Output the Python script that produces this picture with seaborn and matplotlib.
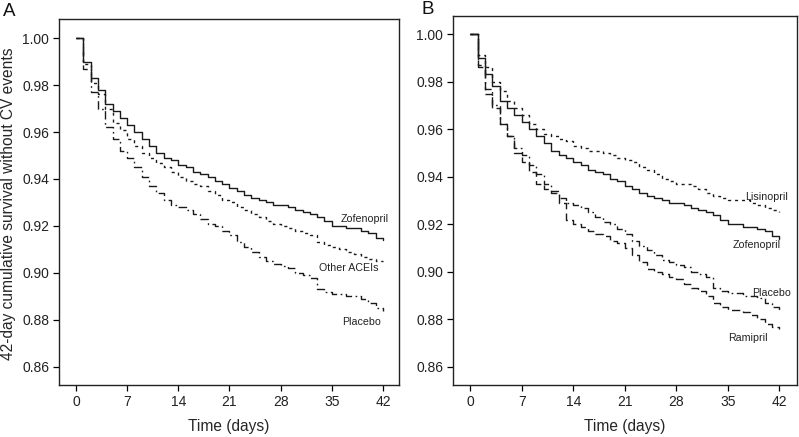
import numpy as np
import pandas as pd
import matplotlib
matplotlib.use("Agg")
import matplotlib.pyplot as plt
import seaborn as sns

days = list(range(0, 43))

zofenopril = [1.000, 0.990, 0.983, 0.978, 0.972, 0.969, 0.966, 0.963, 0.960, 0.957,
              0.954, 0.951, 0.949, 0.948, 0.946, 0.945, 0.943, 0.942, 0.941, 0.939,
              0.938, 0.936, 0.935, 0.933, 0.932, 0.931, 0.930, 0.929, 0.929, 0.928,
              0.927, 0.926, 0.925, 0.924, 0.922, 0.920, 0.920, 0.919, 0.919, 0.918,
              0.917, 0.915, 0.914]
other_aceis = [1.000, 0.989, 0.981, 0.976, 0.970, 0.964, 0.961, 0.957, 0.954, 0.951,
               0.949, 0.947, 0.945, 0.943, 0.941, 0.939, 0.938, 0.937, 0.935, 0.933,
               0.931, 0.930, 0.928, 0.927, 0.925, 0.924, 0.922, 0.921, 0.920, 0.919,
               0.918, 0.917, 0.916, 0.913, 0.912, 0.911, 0.910, 0.909, 0.908, 0.907,
               0.906, 0.905, 0.905]
placebo = [1.000, 0.987, 0.977, 0.970, 0.962, 0.957, 0.952, 0.949, 0.945, 0.941,
           0.937, 0.934, 0.931, 0.929, 0.928, 0.927, 0.925, 0.923, 0.921, 0.920,
           0.918, 0.916, 0.913, 0.911, 0.909, 0.907, 0.905, 0.904, 0.903, 0.902,
           0.900, 0.899, 0.898, 0.893, 0.892, 0.891, 0.891, 0.890, 0.890, 0.889,
           0.887, 0.885, 0.884]
lisinopril = [1.000, 0.991, 0.986, 0.980, 0.976, 0.972, 0.969, 0.966, 0.962, 0.960,
              0.958, 0.957, 0.956, 0.955, 0.953, 0.952, 0.951, 0.951, 0.950, 0.949,
              0.948, 0.947, 0.946, 0.944, 0.943, 0.941, 0.939, 0.938, 0.937, 0.937,
              0.936, 0.935, 0.933, 0.932, 0.931, 0.930, 0.930, 0.930, 0.929, 0.928,
              0.927, 0.926, 0.925]
ramipril = [1.000, 0.986, 0.975, 0.969, 0.962, 0.957, 0.950, 0.946, 0.942, 0.937,
            0.935, 0.933, 0.929, 0.922, 0.920, 0.919, 0.917, 0.916, 0.915, 0.913,
            0.912, 0.910, 0.907, 0.904, 0.901, 0.900, 0.899, 0.898, 0.897, 0.895,
            0.893, 0.892, 0.890, 0.887, 0.885, 0.884, 0.884, 0.883, 0.882, 0.880,
            0.878, 0.877, 0.876]

x_ticks = [0, 7, 14, 21, 28, 35, 42]
y_ticks = [0.86, 0.88, 0.90, 0.92, 0.94, 0.96, 0.98, 1.00]

sns.set_theme(style="ticks")
plt.rcParams["font.family"] = ["Liberation Sans", "DejaVu Sans"]

fig = plt.figure(figsize=(7.99, 4.37), dpi=100)
axA = fig.add_axes([0.0738, 0.119, 0.4256, 0.8375])
axB = fig.add_axes([0.567, 0.119, 0.4305, 0.8444])

styles = {
    "Zofenopril": "-",
    "Other ACEIs": (0, (2.2, 2.8)),
    "Lisinopril": (0, (2.2, 2.8)),
    "Placebo": (0, (6, 2.5, 1.2, 2.5)),
    "Ramipril": (0, (6, 3)),
}

def draw(ax, series):
    for name, vals in series:
        df = pd.DataFrame({"day": days, "surv": vals})
        sns.lineplot(data=df, x="day", y="surv", ax=ax, color="#1a1a1a",
                     linewidth=1.0, drawstyle="steps-post",
                     linestyle=styles[name], estimator=None)
    ax.set_xticks(x_ticks)
    ax.set_yticks(y_ticks)
    ax.set_yticklabels([f"{v:.2f}" for v in y_ticks])
    ax.tick_params(axis="both", labelsize=10, length=4, width=0.9, color="black",
                   labelcolor="#222222", pad=3)
    for s in ax.spines.values():
        s.set_visible(True)
        s.set_color("#222222")
        s.set_linewidth(1.0)
    ax.set_xlabel("Time (days)", fontsize=11.2)
    ax.xaxis.label.set_va("center")
    ax.xaxis.set_label_coords(0.5, -0.113)

draw(axA, [("Zofenopril", zofenopril), ("Other ACEIs", other_aceis), ("Placebo", placebo)])
axA.set_xlim(-2.33, 44.2)
axA.set_ylim(0.8523, 1.0081)
axA.set_ylabel("42-day cumulative survival without CV events", fontsize=11.2)
axA.yaxis.label.set_va("center")
axA.yaxis.set_label_coords(-0.147, 0.495)

draw(axB, [("Lisinopril", lisinopril), ("Zofenopril", zofenopril), ("Placebo", placebo), ("Ramipril", ramipril)])
axB.set_xlim(-2.33, 44.4)
axB.set_ylim(0.8524, 1.0076)
axB.set_ylabel("")

lab_kw = dict(fontsize=7.7, color="#222222", ha="center", va="center")
axA.text(39.5, 0.9230, "Zofenopril", **lab_kw)
axA.text(37.3, 0.9021, "Other ACEIs", **lab_kw)
axA.text(39.1, 0.8791, "Placebo", **lab_kw)

axB.text(40.2, 0.9315, "Lisinopril", **lab_kw)
axB.text(38.9, 0.9113, "Zofenopril", **lab_kw)
axB.text(41.0, 0.8911, "Placebo", **lab_kw)
axB.text(37.8, 0.8722, "Ramipril", **lab_kw)

fig.text(0.004, 0.974, "A", fontsize=13.5, ha="left", va="center", color="#111111")
fig.text(0.528, 0.978, "B", fontsize=13.5, ha="left", va="center", color="#111111")

fig.savefig("out.png", dpi=100)
